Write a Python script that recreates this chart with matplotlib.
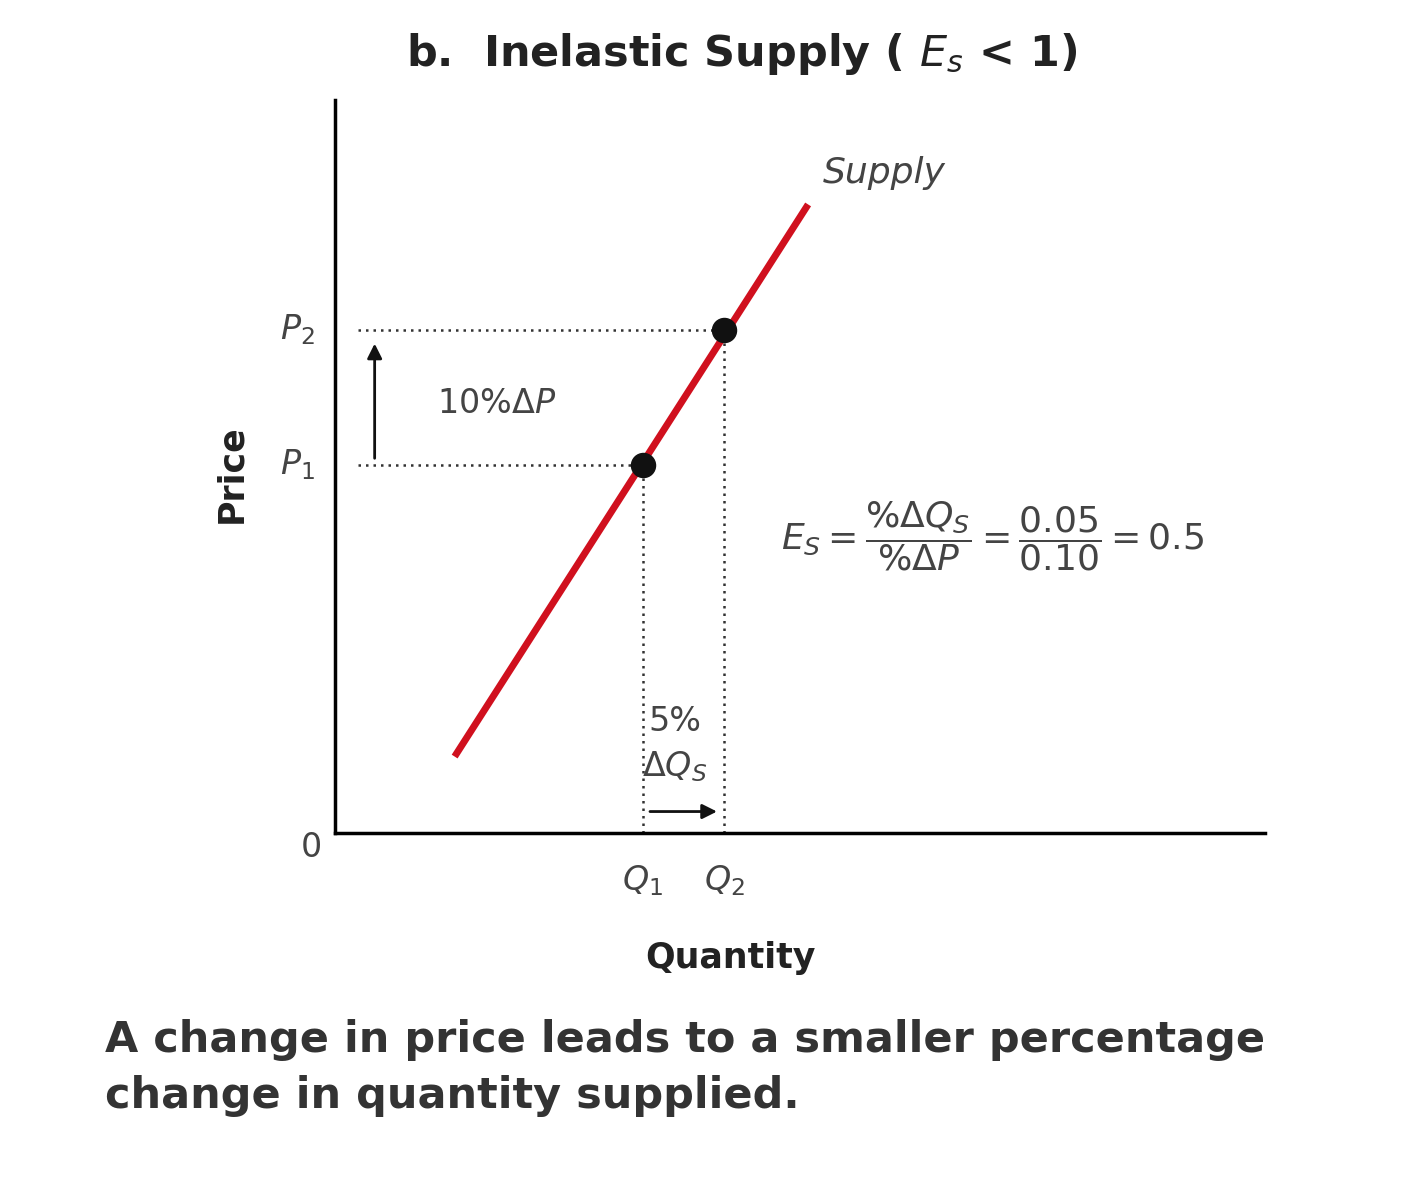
import matplotlib.pyplot as plt
import numpy as np

# supply line endpoints and the two equilibrium points (data units)
supply_q = [1.29, 5.09]
supply_p = [1.04, 8.57]
q_points = [3.31, 4.19]
p_points = [5.02, 6.86]
p_labels = ['$P_1$', '$P_2$']
q_labels = ['$Q_1$', '$Q_2$']

fig = plt.figure(figsize=(14.18, 12), dpi=100)
ax = fig.add_axes([0.236, 0.306, 0.656, 0.611])
ax.set_xlim(0, 10)
ax.set_ylim(0, 10)
for s in ['top', 'right']:
    ax.spines[s].set_visible(False)
for s in ['left', 'bottom']:
    ax.spines[s].set_linewidth(2.5)
ax.set_xticks([])
ax.set_yticks([])

ax.plot(supply_q, supply_p, color='#d0101e', lw=5, solid_capstyle='butt')
ax.scatter(q_points, p_points, s=300, color='#111111', zorder=5)

# dotted guides
for q, p in zip(q_points, p_points):
    ax.plot([0.25, q], [p, p], ls=(0, (1, 2)), color='#333333', lw=1.8)
    ax.plot([q, q], [0, p], ls=(0, (1, 2)), color='#333333', lw=1.8)

for p, lab in zip(p_points, p_labels):
    ax.text(-0.4, p, lab, fontsize=24, ha='center', va='center', color='#444444')
for q, lab in zip(q_points, q_labels):
    ax.text(q, -0.65, lab, fontsize=24, ha='center', va='center', color='#444444')
ax.text(-0.25, -0.2, '0', fontsize=24, ha='center', va='center', color='#444444')

# arrows
ax.annotate('', xy=(0.43, p_points[1] - 0.15), xytext=(0.43, p_points[0] + 0.05),
            arrowprops=dict(arrowstyle='-|>', color='#111111', lw=2, mutation_scale=22))
ax.annotate('', xy=(q_points[1] - 0.05, 0.29), xytext=(q_points[0] + 0.05, 0.29),
            arrowprops=dict(arrowstyle='-|>', color='#111111', lw=2, mutation_scale=22))

ax.text(1.1, 5.85, r'10%$\Delta P$', fontsize=24, color='#444444', va='center')
ax.text(3.37, 1.52, '5%', fontsize=24, color='#444444', va='center')
ax.text(3.3, 0.9, r'$\Delta Q_S$', fontsize=24, color='#444444', va='center')
ax.text(5.25, 9.0, 'Supply', fontsize=26, style='italic', color='#444444', va='center')
ax.text(4.8, 4.05, r'$E_S = \dfrac{\%\Delta Q_S}{\%\Delta P} = \dfrac{0.05}{0.10} = 0.5$',
        fontsize=26, color='#444444', va='center')

fig.text(0.523, 0.955, r'b.  Inelastic Supply ( $E_s$ < 1)', fontsize=31,
         fontweight='bold', ha='center', va='center', color='#222222')
fig.text(0.163, 0.605, 'Price', fontsize=25, fontweight='bold', rotation=90,
         ha='center', va='center', color='#222222')
fig.text(0.515, 0.202, 'Quantity', fontsize=25, fontweight='bold',
         ha='center', va='center', color='#222222')
fig.text(0.074, 0.11, 'A change in price leads to a smaller percentage\nchange in quantity supplied.',
         fontsize=31, fontweight='bold', ha='left', va='center', color='#333333',
         linespacing=1.45)

fig.savefig('out.png', dpi=100)
